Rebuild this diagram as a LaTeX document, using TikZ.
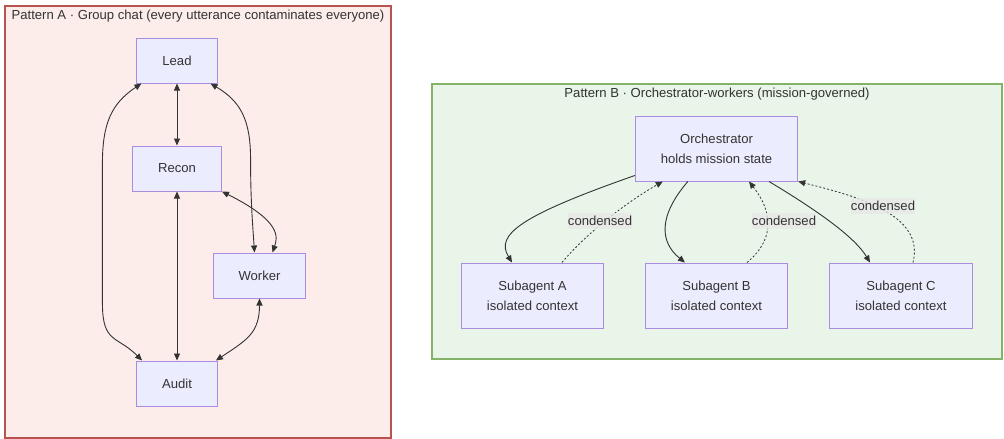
\documentclass[tikz,border=0pt]{standalone}
\usepackage{fontspec}
\setmainfont{Liberation Sans}
\usepackage{xcolor}
\usetikzlibrary{arrows.meta}

\definecolor{inkgray}{HTML}{333333}
\definecolor{agentfill}{HTML}{ECECFF}
\definecolor{agentline}{RGB}{170,140,225}
\definecolor{chatfill}{RGB}{252,237,235}
\definecolor{chatline}{RGB}{184,84,80}
\definecolor{orchfill}{RGB}{232,245,232}
\definecolor{orchline}{RGB}{130,179,102}
\definecolor{lblfill}{RGB}{232,232,232}

\begin{document}
\begin{tikzpicture}[
      x=1pt, y=-1pt,
      font=\fontsize{13.1}{20}\selectfont, text=inkgray,
      agent/.style={
        rectangle, draw=agentline, fill=agentfill, line width=1pt,
        inner xsep=25.5pt, minimum height=45pt, align=center},
      tall/.style={minimum height=65pt},
      group/.style={rectangle, line width=1.2pt, inner sep=0pt},
      title/.style={inner sep=0pt},
      lbl/.style={fill=lblfill, fill opacity=0.8, text opacity=1,
        inner xsep=0pt, inner ysep=3.5pt},
      link/.style={-{Triangle[length=7pt,width=6pt]}, inkgray, line width=0.9pt},
      both/.style={{Triangle[length=7pt,width=6pt]}-{Triangle[length=7pt,width=6pt]},
        inkgray, line width=0.9pt},
      back/.style={-{Triangle[length=7pt,width=6pt]}, inkgray, line width=0.8pt,
        dash pattern=on 2pt off 2pt}
    ]
    \useasboundingbox (0,0) rectangle (1004,439);

    % --- Group boxes ---
    \node[group, draw=chatline, fill=chatfill, minimum width=386pt, minimum height=432pt]
      (chat) at (198,222) {};
    \node[group, draw=orchline, fill=orchfill, minimum width=570pt, minimum height=275pt]
      (team) at (717,221.5) {};
    \node[title] (chattitle) at (198,16.5)
      {Pattern A · Group chat (every utterance contaminates everyone)};
    \node[title] (teamtitle) at (717,94)
      {Pattern B · Orchestrator-workers (mission-governed)};

    % --- Pattern A agents ---
    \node[agent] (lead)   at (177,60.5)  {Lead};
    \node[agent] (recon)  at (177,168.5) {Recon};
    \node[agent] (worker) at (259.5,275.5) {Worker};
    \node[agent] (audit)  at (177,383.5) {Audit};

    % --- Pattern B agents ---
    \node[agent, tall] (orch) at (716.5,148.5) {Orchestrator\\holds mission state};
    \node[agent, tall] (subA) at (532.5,295.5) {Subagent A\\isolated context};
    \node[agent, tall] (subB) at (716.5,295.5) {Subagent B\\isolated context};
    \node[agent, tall] (subC) at (901,295.5)   {Subagent C\\isolated context};

    % --- Group chat arrows ---
    \draw[both] (lead) -- (recon);
    \draw[both] (recon) -- (audit);
    \draw[both] ([xshift=5pt]lead.south west) .. controls +(-30,20) and +(0,-40) .. ++(-39,80)
      -- ++(0,140) .. controls +(0,40) and +(-25,-25) .. ([xshift=6pt]audit.north west);
    \draw[both] ([xshift=-7pt]lead.south east) .. controls +(30,18) and +(0,-40) .. ++(40,76)
      .. controls +(0,40) and +(-2,-30) .. ([xshift=42pt]worker.north west);
    \draw[both] (recon.south east) .. controls +(60,30) and +(5,-15) .. ([xshift=60pt]worker.north west);
    \draw[both] (worker.south) .. controls +(0,35) and +(30,-20) .. ([xshift=-2pt]audit.north east);

    % --- Orchestrator arrows ---
    \draw[link] ([yshift=6pt]orch.south west) .. controls +(-114,40) and +(-17,-28) .. ([xshift=-20.5pt]subA.north);
    \draw[link] ([xshift=53pt]orch.south west) .. controls +(-30,35) and +(-25,-20) .. ([xshift=-31.5pt]subB.north);
    \draw[link] ([xshift=52.5pt]orch.south) .. controls +(50,30) and +(-15,-25) .. ([xshift=-31pt]subC.north);

    % --- Condensed returns ---
    \draw[back] ([xshift=29.5pt]subA.north) .. controls +(25,-30) and +(-35,20) .. ([xshift=28pt]orch.south west);
    \draw[back] ([xshift=30.5pt]subB.north) .. controls +(30,-25) and +(22,28) .. ([xshift=32.5pt]orch.south);
    \draw[back] ([xshift=12pt]subC.north) .. controls +(12,-48) and +(60,15) .. (orch.south east);

    % --- Edge labels ---
    \node[lbl] (condA) at (600,221) {condensed};
    \node[lbl] (condB) at (784,221) {condensed};
    \node[lbl] (condC) at (883,206) {condensed};
  \end{tikzpicture}
\end{document}
